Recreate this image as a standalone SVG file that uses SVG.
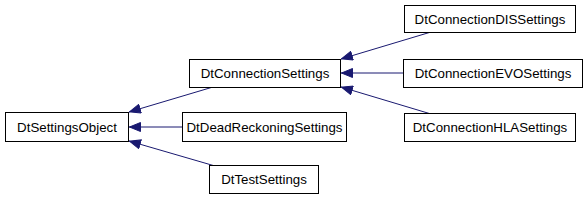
<svg xmlns="http://www.w3.org/2000/svg" width="587" height="200" viewBox="0 0 587 200">
<style>
.n rect{fill:#fff;stroke:#000;stroke-width:1}
.n text{font-family:"Liberation Sans",Arial,sans-serif;font-size:13.3px;fill:#000;text-anchor:middle}
.e line{stroke:#191970;stroke-width:1;marker-end:url(#a)}
</style>
<defs>
<marker id="a" viewBox="0 0 12 10" refX="12" refY="5" markerWidth="12" markerHeight="10" markerUnits="userSpaceOnUse" orient="auto">
<path d="M0.5,0.5 L11.5,5 L0.5,9.5 z" fill="#191970" stroke="#191970"/>
</marker>
</defs>
<g id="edges" class="e">
<line x1="213" y1="87" x2="129" y2="112"/>
<line x1="182" y1="127" x2="129" y2="127"/>
<line x1="215" y1="166" x2="129" y2="141"/>
<line x1="431" y1="32" x2="341" y2="59"/>
<line x1="403" y1="73" x2="341" y2="73"/>
<line x1="431" y1="114" x2="341" y2="87"/>
</g>
<g id="DtSettingsObject" class="n"><rect x="5.5" y="112.5" width="123" height="29"/><text x="67" y="131.5">DtSettingsObject</text></g>
<g id="DtConnectionSettings" class="n"><rect x="189.5" y="59.5" width="151" height="28"/><text x="265" y="78">DtConnectionSettings</text></g>
<g id="DtDeadReckoningSettings" class="n"><rect x="182.5" y="112.5" width="164" height="29"/><text x="264.5" y="131.5">DtDeadReckoningSettings</text></g>
<g id="DtTestSettings" class="n"><rect x="209.5" y="165.5" width="109" height="28"/><text x="264" y="184">DtTestSettings</text></g>
<g id="DtConnectionDISSettings" class="n"><rect x="404.5" y="5.5" width="171" height="27"/><text x="490" y="23.5">DtConnectionDISSettings</text></g>
<g id="DtConnectionEVOSettings" class="n"><rect x="403.5" y="59.5" width="179" height="28"/><text x="493" y="78">DtConnectionEVOSettings</text></g>
<g id="DtConnectionHLASettings" class="n"><rect x="404.5" y="113.5" width="171" height="28"/><text x="490" y="132">DtConnectionHLASettings</text></g>
</svg>
